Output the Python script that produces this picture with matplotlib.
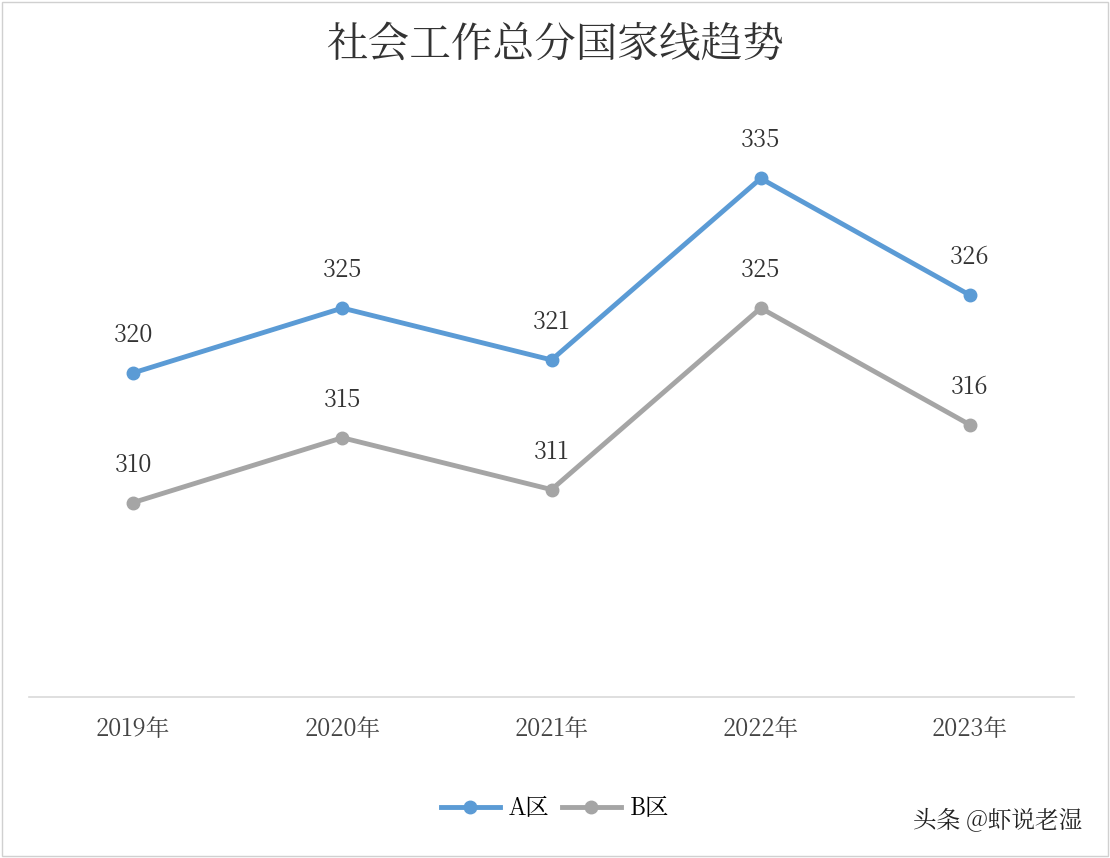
import matplotlib
matplotlib.use("Agg")
import matplotlib.pyplot as plt
from matplotlib import font_manager as fm
from matplotlib.lines import Line2D

cjk_name = None
for f in fm.findSystemFonts():
    if "CJK" in f or "cjk" in f.lower():
        try:
            fm.fontManager.addfont(f)
            n = fm.FontProperties(fname=f).get_name()
            if cjk_name is None or "SC" in n:
                cjk_name = n
        except Exception:
            pass
plt.rcParams["font.family"] = [cjk_name or "Noto Sans CJK SC", "DejaVu Sans"]

years = ["2019年", "2020年", "2021年", "2022年", "2023年"]
a_vals = [320, 325, 321, 335, 326]
b_vals = [310, 315, 311, 325, 316]
series_names = ["A区", "B区"]
colors = ["#5B9BD5", "#A5A5A5"]

fig = plt.figure(figsize=(11.1, 8.58), dpi=100)
ax = fig.add_axes([0.0257, 0.1876, 0.9423, 0.68])
x = list(range(len(years)))
for vals, c, name in zip([a_vals, b_vals], colors, series_names):
    ax.plot(x, vals, color=c, lw=3.5, marker="o", ms=9, label=name, zorder=3)
    for xi, v in zip(x, vals):
        ax.annotate(str(v), (xi, v), xytext=(0, 18), textcoords="offset points",
                    ha="center", va="bottom", fontsize=17, color="#333333")
ax.set_xlim(-0.5, 4.5)
ax.set_ylim(295, 340)
ax.set_yticks([])
ax.set_xticks(x)
ax.set_xticklabels(years, fontsize=17, color="#444444")
ax.tick_params(axis="x", length=0, pad=14)
for s in ["top", "right", "left"]:
    ax.spines[s].set_visible(False)
ax.spines["bottom"].set_color("#D9D9D9")
ax.spines["bottom"].set_linewidth(1.2)

fig.text(0.5, 0.947, "社会工作总分国家线趋势", ha="center", va="center",
         fontsize=30, color="#333333")
handles = [Line2D([0], [0], color=c, lw=3.5, marker="o", ms=9) for c in colors]
fig.legend(handles, series_names, loc="center", bbox_to_anchor=(0.5, 0.058),
           ncol=2, frameon=False, fontsize=17, handlelength=2.5, columnspacing=0.5,
           handletextpad=0.4)
fig.text(0.975, 0.043, "头条 @虾说老湿", ha="right", va="center", fontsize=17, color="#222222")
fig.patches.append(plt.Rectangle((0.002, 0.002), 0.996, 0.996, transform=fig.transFigure,
                                 fill=False, edgecolor="#D0D0D0", lw=1))
fig.savefig("out.png", dpi=100)
